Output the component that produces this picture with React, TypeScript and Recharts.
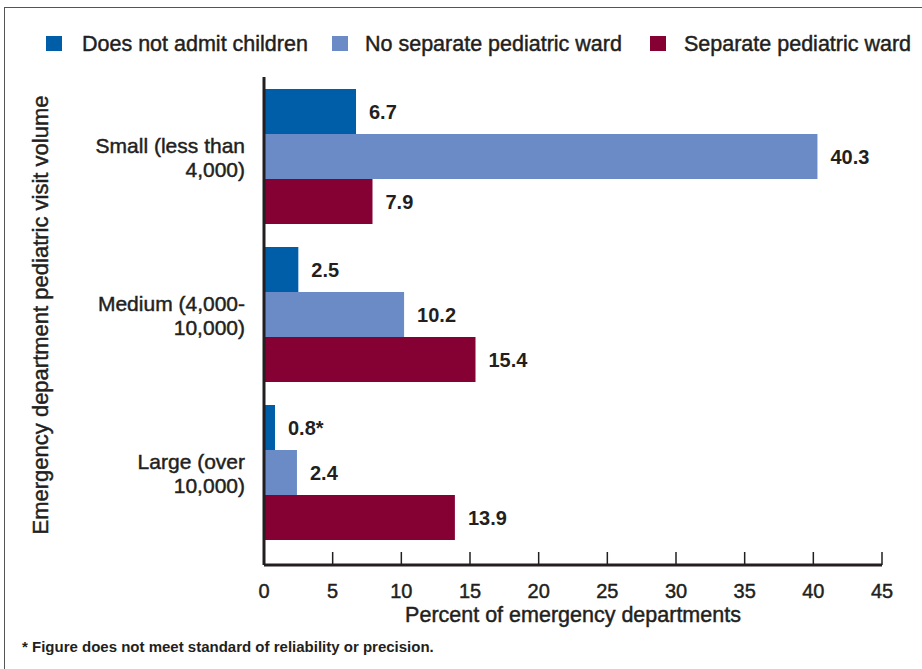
import React from 'react';
import { BarChart, Bar, XAxis, YAxis, LabelList } from 'recharts';

const categories = ['Small (less than 4,000)', 'Medium (4,000-10,000)', 'Large (over 10,000)'];
const categoryLines = [
  ['Small (less than', '4,000)'],
  ['Medium (4,000-', '10,000)'],
  ['Large (over', '10,000)'],
];
const doesNotAdmit = [6.7, 2.5, 0.8];
const doesNotAdmitLabels = ['6.7', '2.5', '0.8*'];
const noSeparateWard = [40.3, 10.2, 2.4];
const separateWard = [7.9, 15.4, 13.9];
const xTicks = [0, 5, 10, 15, 20, 25, 30, 35, 40, 45];

const COLORS = { notAdmit: '#005da8', noWard: '#6b8bc6', ward: '#850033' };
const INK = '#231f20';
const FONT = '"Liberation Sans", Arial, sans-serif';
const THICK = 0.45;

const data = categories.map((c, i) => ({
  name: c,
  notAdmit: doesNotAdmit[i],
  noWard: noSeparateWard[i],
  ward: separateWard[i],
}));

const legendItems = [
  { label: 'Does not admit children', color: COLORS.notAdmit, box: 46, text: 82 },
  { label: 'No separate pediatric ward', color: COLORS.noWard, box: 332, text: 365 },
  { label: 'Separate pediatric ward', color: COLORS.ward, box: 650, text: 684 },
];

const XTick = (props: any) => {
  const { x, y, payload } = props;
  return (
    <g>
      <line x1={x} x2={x} y1={y - 13} y2={y} stroke={INK} strokeWidth={1.5} />
      <text x={x} y={y + 33} textAnchor="middle" fontSize={20} fill={INK} stroke={INK} strokeWidth={THICK} fontFamily={FONT}>
        {payload.value}
      </text>
    </g>
  );
};

const YTick = (props: any) => {
  const { y, index } = props;
  const lines = categoryLines[index] || [];
  return (
    <text textAnchor="end" fontSize={21} fill={INK} stroke={INK} strokeWidth={THICK} fontFamily={FONT}>
      {lines.map((l, i) => (
        <tspan key={i} x={245} y={y - 3 + i * 24}>{l}</tspan>
      ))}
    </text>
  );
};

const App: React.FC = () => {
  return (
    <div style={{ position: 'absolute', top: 0, left: 0, width: 922, height: 669, background: '#fff', fontFamily: FONT, color: INK, overflow: 'hidden' }}>
      <div style={{ position: 'absolute', left: 4, top: 7, right: 0, bottom: 0, borderLeft: '1.5px solid #555', borderTop: '1.5px solid #555' }} />
      {legendItems.map((it) => (
        <React.Fragment key={it.label}>
          <div style={{ position: 'absolute', left: it.box, top: 36, width: 16, height: 15, background: it.color }} />
          <div style={{ position: 'absolute', left: it.text, top: 30, fontSize: 21.5, lineHeight: '28px', whiteSpace: 'nowrap', WebkitTextStroke: `${THICK}px ${INK}` }}>{it.label}</div>
        </React.Fragment>
      ))}
      <BarChart
        width={922}
        height={669}
        data={data}
        layout="vertical"
        margin={{ top: 77, right: 40, left: 0, bottom: 44 }}
        barGap={0}
        style={{ position: 'absolute', top: 0, left: 0 }}
      >
        <XAxis
          type="number"
          domain={[0, 45]}
          ticks={xTicks}
          interval={0}
          axisLine={{ stroke: INK, strokeWidth: 3 }}
          tickLine={false}
          tickSize={0}
          tickMargin={0}
          tick={<XTick />}
          height={60}
          label={{ value: 'Percent of emergency departments', position: 'insideBottom', offset: 3, fill: INK, stroke: INK, strokeWidth: THICK, fontSize: 21.5, fontFamily: FONT }}
        />
        <YAxis
          type="category"
          dataKey="name"
          width={264}
          axisLine={{ stroke: INK, strokeWidth: 3 }}
          tickLine={false}
          tickSize={0}
          tickMargin={0}
          tick={<YTick />}
          padding={{ top: 0, bottom: 14 }}
          label={{
            content: () => (
              <text
                x={40}
                y={315}
                transform="rotate(-90, 40, 315)"
                textAnchor="middle"
                dominantBaseline="central"
                fontSize={22}
                fill={INK}
                stroke={INK}
                strokeWidth={THICK}
                fontFamily={FONT}
              >
                Emergency department pediatric visit volume
              </text>
            ),
          }}
        />
        <Bar dataKey="notAdmit" fill={COLORS.notAdmit} barSize={45} isAnimationActive={false}>
          <LabelList
            dataKey="notAdmit"
            position="right"
            offset={13}
            fill={INK}
            fontSize={20}
            fontWeight="bold"
            fontFamily={FONT}
            formatter={(v: any) => doesNotAdmitLabels[doesNotAdmit.indexOf(v)]}
          />
        </Bar>
        <Bar dataKey="noWard" fill={COLORS.noWard} barSize={45} isAnimationActive={false}>
          <LabelList dataKey="noWard" position="right" offset={13} fill={INK} fontSize={20} fontWeight="bold" fontFamily={FONT} />
        </Bar>
        <Bar dataKey="ward" fill={COLORS.ward} barSize={45} isAnimationActive={false}>
          <LabelList dataKey="ward" position="right" offset={13} fill={INK} fontSize={20} fontWeight="bold" fontFamily={FONT} />
        </Bar>
      </BarChart>
      <div style={{ position: 'absolute', left: 22, top: 638, fontSize: 15, fontWeight: 'bold', whiteSpace: 'nowrap' }}>
        * Figure does not meet standard of reliability or precision.
      </div>
    </div>
  );
};

export default App;
